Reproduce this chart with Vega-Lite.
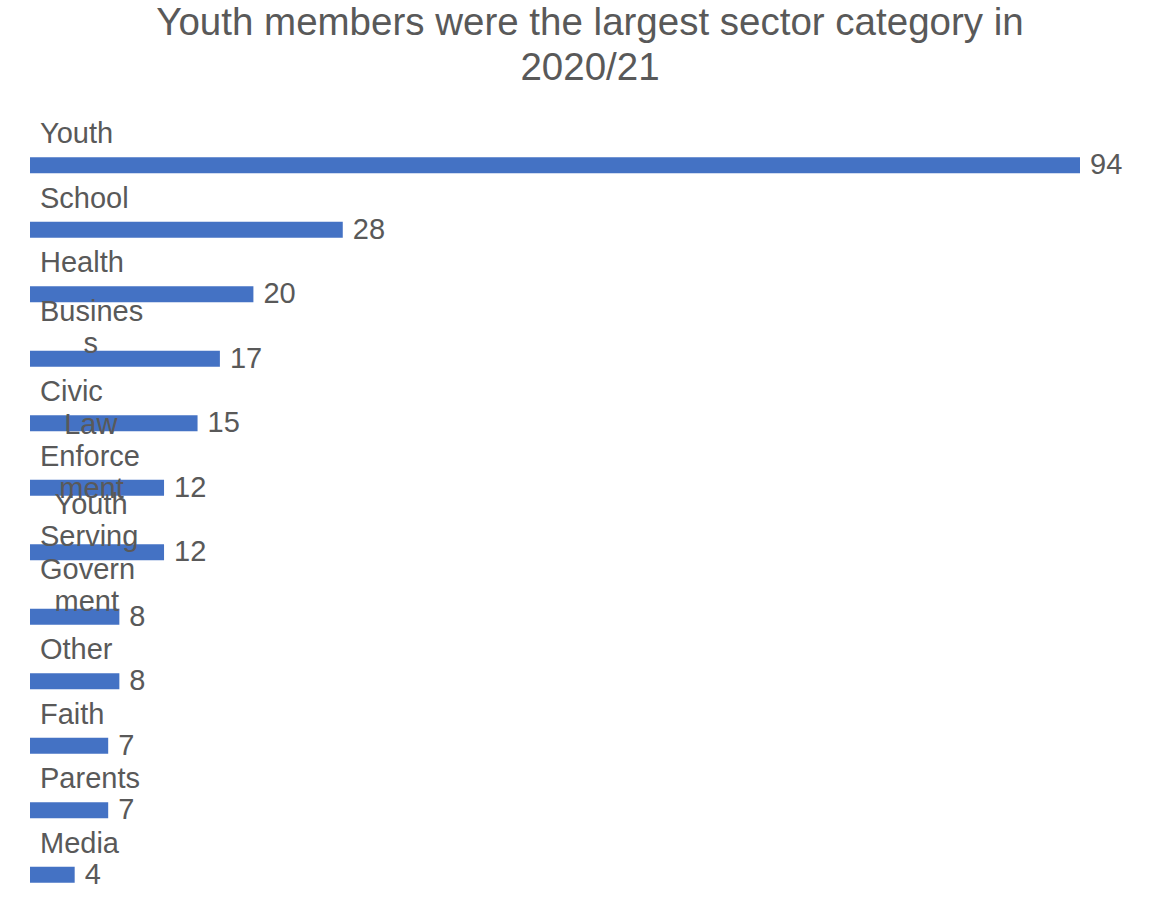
{
  "$schema": "https://vega.github.io/schema/vega-lite/v6.json",
  "autosize": {"type": "none"},
  "padding": {"top": 133, "left": 30, "right": 92, "bottom": 8},
  "width": 1050,
  "height": 774,
  "background": "white",
  "config": {"view": {"stroke": null}, "font": "Liberation Sans"},
  "title": {
    "text": ["Youth members were the largest sector category in", "2020/21"],
    "fontSize": 38.5,
    "fontWeight": "normal",
    "font": "Liberation Sans",
    "color": "#595959",
    "lineHeight": 45,
    "anchor": "middle",
    "dx": 35,
    "offset": 32
  },
  "data": {
    "values": [
      {"sector": "Youth", "label": "Youth", "count": 94},
      {"sector": "School", "label": "School", "count": 28},
      {"sector": "Health", "label": "Health", "count": 20},
      {"sector": "Business", "label": "Busines\n\u200b\u2002\u2002\u2002s", "count": 17},
      {"sector": "Civic", "label": "Civic", "count": 15},
      {"sector": "Law Enforcement", "label": "\u200b\u2002\u2004Law\nEnforce\n\u200b\u2002\u2006ment", "count": 12},
      {"sector": "Youth Serving", "label": "\u200b\u2002Youth\nServing", "count": 12},
      {"sector": "Government", "label": "Govern\n\u200b\u2002ment", "count": 8},
      {"sector": "Other", "label": "Other", "count": 8},
      {"sector": "Faith", "label": "Faith", "count": 7},
      {"sector": "Parents", "label": "Parents", "count": 7},
      {"sector": "Media", "label": "Media", "count": 4}
    ]
  },
  "encoding": {
    "y": {"field": "sector", "type": "nominal", "sort": null, "axis": null,
          "scale": {"paddingInner": 0, "paddingOuter": 0}}
  },
  "layer": [
    {
      "mark": {"type": "bar", "height": 16, "color": "#4472C4"},
      "encoding": {
        "x": {"field": "count", "type": "quantitative", "axis": null,
              "scale": {"domain": [0, 94], "nice": false}}
      }
    },
    {
      "mark": {"type": "text", "align": "left", "baseline": "middle", "dx": 10, "fontSize": 29, "color": "#595959"},
      "encoding": {
        "x": {"field": "count", "type": "quantitative"},
        "text": {"field": "count", "type": "quantitative"}
      }
    },
    {
      "mark": {"type": "text", "align": "left", "baseline": "middle", "dx": 10,
               "dy": {"expr": "-31 - (length(split(datum.label, '\\n')) - 1) * 16"},
               "fontSize": 29, "lineHeight": 32, "lineBreak": "\n", "color": "#595959"},
      "encoding": {
        "x": {"datum": 0, "type": "quantitative"},
        "text": {"field": "label", "type": "nominal"}
      }
    }
  ]
}
